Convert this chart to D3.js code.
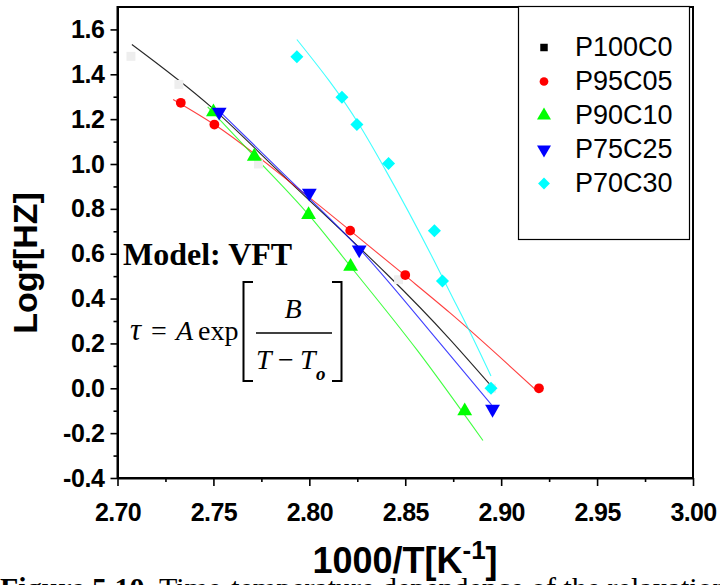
<!DOCTYPE html>
<html><head><meta charset="utf-8">
<script src="https://cdn.jsdelivr.net/npm/d3@7"></script>
<style>html,body{margin:0;padding:0;background:#fff;} svg{display:block;}</style>
</head><body>
<svg id="chart" width="720" height="585"></svg>
<script>
// Series identity
const seriesNames = ["P100C0", "P95C05", "P90C10", "P75C25", "P70C30"];
const seriesColors = ["#000000", "#ff0000", "#00ff00", "#0000ff", "#00ffff"];

// Measured points: 1000/T (K^-1) and log f (Hz)
const p100c0X = [2.707, 2.732, 2.7735, 2.8465, 2.895];
const p100c0Y = [1.48, 1.355, 1.00, 0.484, 0.0];
const p95c05X = [2.733, 2.7505, 2.8213, 2.850, 2.9197];
const p95c05Y = [1.273, 1.176, 0.703, 0.505, 0.0];
const p90c10X = [2.750, 2.7713, 2.7996, 2.8215, 2.881];
const p90c10Y = [1.232, 1.034, 0.774, 0.543, -0.101];
const p75c25X = [2.753, 2.800, 2.8260, 2.8955];
const p75c25Y = [1.232, 0.871, 0.618, -0.093];
const p70c30X = [2.7935, 2.817, 2.8248, 2.8413, 2.8652, 2.8694, 2.8947];
const p70c30Y = [1.478, 1.298, 1.176, 1.002, 0.702, 0.478, 0.0];

// VFT fit curves
const fit100X = [2.7075, 2.7483, 2.7831, 2.8735, 2.8943];
const fit100Y = [1.533, 1.258, 0.975, 0.216, 0.015];
const fit95X = [2.729, 2.7505, 2.797, 2.8213, 2.850, 2.8735, 2.9197];
const fit95Y = [1.288, 1.176, 0.871, 0.703, 0.502, 0.335, -0.02];
const fit90X = [2.747, 2.7713, 2.7996, 2.8215, 2.8561, 2.8905];
const fit90Y = [1.255, 1.034, 0.774, 0.543, 0.171, -0.233];
const fit75X = [2.752, 2.7847, 2.8265, 2.8682, 2.895];
const fit75Y = [1.245, 0.972, 0.618, 0.200, -0.074];
const fit70X = [2.7935, 2.8265, 2.8396, 2.8648, 2.8735, 2.8838, 2.8947];
const fit70Y = [1.555, 1.168, 0.975, 0.573, 0.425, 0.25, 0.055];

// Axis ticks
const xTicks = [2.70, 2.75, 2.80, 2.85, 2.90, 2.95, 3.00];
const xMinorTicks = [2.725, 2.775, 2.825, 2.875, 2.925, 2.975];
const yTicks = [-0.4, -0.2, 0.0, 0.2, 0.4, 0.6, 0.8, 1.0, 1.2, 1.4, 1.6];
const yMinorTicks = [-0.3, -0.1, 0.1, 0.3, 0.5, 0.7, 0.9, 1.1, 1.3, 1.5];

const svg = d3.select("#chart");
const L = 117.5, R = 693, T = 7, B = 478;
const x = d3.scaleLinear().domain([2.70, 3.00]).range([L, R]);
const y = d3.scaleLinear().domain([-0.4, 1.7]).range([B, T]);

const sansBold = "'Liberation Sans', Arial, sans-serif";
const serif = "'Liberation Serif', 'Times New Roman', serif";
const hyphenFormat = f => d => d3.format(f)(d).replace("\u2212", "-");

// Caption (partly below the page edge)
const cap = svg.append("text").attr("x", 0).attr("y", 598)
  .attr("font-family", serif).attr("font-size", 30).attr("fill", "#000");
cap.append("tspan").attr("font-weight", "bold").text("Figure 5.10.");
cap.append("tspan").text(" Time-temperature dependence of the relaxation");

// Frame
svg.append("rect").attr("x", L).attr("y", T).attr("width", R - L).attr("height", B - T)
  .attr("fill", "none").attr("stroke", "#000").attr("stroke-width", 2);

// Axes
const xAxis = d3.axisBottom(x).tickValues(xTicks).tickFormat(hyphenFormat(".2f"))
  .tickSize(8).tickSizeOuter(0);
const gx = svg.append("g").attr("transform", `translate(0,${B})`).call(xAxis);
gx.select(".domain").attr("stroke-width", 2);
gx.selectAll(".tick line").attr("stroke-width", 1.6);
gx.selectAll(".tick text").attr("font-family", sansBold).attr("font-weight", "bold")
  .attr("font-size", 25).attr("fill", "#000").attr("dy", "0").attr("y", 43)
  .attr("letter-spacing", -0.6);
svg.append("g").attr("transform", `translate(0,${B})`)
  .call(d3.axisBottom(x).tickValues(xMinorTicks).tickFormat("").tickSize(4).tickSizeOuter(0))
  .call(g => g.select(".domain").remove())
  .selectAll(".tick line").attr("stroke-width", 1.6);

const yAxis = d3.axisLeft(y).tickValues(yTicks).tickFormat(hyphenFormat(".1f"))
  .tickSize(7).tickSizeOuter(0);
const gy = svg.append("g").attr("transform", `translate(${L},0)`).call(yAxis);
gy.select(".domain").attr("stroke-width", 2);
gy.selectAll(".tick line").attr("stroke-width", 1.6);
gy.selectAll(".tick text").attr("font-family", sansBold).attr("font-weight", "bold")
  .attr("font-size", 25).attr("fill", "#000").attr("x", -13).attr("letter-spacing", -0.4);
svg.append("g").attr("transform", `translate(${L},0)`)
  .call(d3.axisLeft(y).tickValues(yMinorTicks).tickFormat("").tickSize(4).tickSizeOuter(0))
  .call(g => g.select(".domain").remove())
  .selectAll(".tick line").attr("stroke-width", 1.6);

// Axis titles
svg.append("text").attr("transform", "translate(37,263) rotate(-90)")
  .attr("text-anchor", "middle").attr("font-family", sansBold).attr("font-weight", "bold")
  .attr("font-size", 34).attr("fill", "#000").text("Logf[HZ]");
const xt = svg.append("text").attr("x", 405).attr("y", 573).attr("text-anchor", "middle")
  .attr("font-family", sansBold).attr("font-weight", "bold").attr("font-size", 36).attr("fill", "#000");
xt.append("tspan").text("1000/T[K");
xt.append("tspan").attr("font-size", 26).attr("dy", -14).text("-1");
xt.append("tspan").attr("dy", 14).text("]");

// Fit curves
const fits = [[fit100X, fit100Y], [fit95X, fit95Y], [fit90X, fit90Y], [fit75X, fit75Y], [fit70X, fit70Y]];
const line = d3.line().x(d => x(d[0])).y(d => y(d[1])).curve(d3.curveMonotoneX);
fits.forEach(([xs, ys], i) => {
  svg.append("path").datum(xs.map((v, k) => [v, ys[k]]))
    .attr("d", line).attr("fill", "none").attr("stroke", seriesColors[i])
    .attr("stroke-width", 1.1).attr("stroke-opacity", i === 0 ? 0.85 : 0.75);
});

// Marker shapes
const symbols = [d3.symbolSquare, d3.symbolCircle, d3.symbolTriangle, d3.symbolTriangle, d3.symbolSquare];
const sizes = [80, 75, 95, 95, 85];
const rotations = [0, 0, 0, 180, 45];
const markerFill = ["#eeeeee", "#ff0000", "#00ff00", "#0000ff", "#00ffff"];
const series = [[p100c0X, p100c0Y], [p95c05X, p95c05Y], [p90c10X, p90c10Y], [p75c25X, p75c25Y], [p70c30X, p70c30Y]];
series.forEach(([xs, ys], i) => {
  svg.append("g").selectAll("path").data(xs.map((v, k) => [v, ys[k]])).join("path")
    .attr("d", d3.symbol().type(symbols[i]).size(sizes[i]))
    .attr("transform", d => `translate(${x(d[0])},${y(d[1])}) rotate(${rotations[i]})`)
    .attr("fill", markerFill[i]);
});

// Legend
svg.append("rect").attr("x", 518.5).attr("y", 6.5).attr("width", 171).attr("height", 233)
  .attr("fill", "#fff").attr("stroke", "#000").attr("stroke-width", 1.2);
const legendSizes = [56, 60, 85, 85, 70];
seriesNames.forEach((name, i) => {
  const cy = 47.5 + i * 34;
  svg.append("path").attr("d", d3.symbol().type(symbols[i]).size(legendSizes[i]))
    .attr("transform", `translate(544,${cy}) rotate(${rotations[i]})`)
    .attr("fill", seriesColors[i]);
  svg.append("text").attr("x", 575).attr("y", cy + 8.5)
    .attr("font-family", "'Liberation Sans', Arial, sans-serif").attr("font-size", 27)
    .attr("fill", "#000").text(name);
});

// Model annotation
svg.append("text").attr("x", 123).attr("y", 265).attr("font-family", serif)
  .attr("font-weight", "bold").attr("font-size", 32).attr("fill", "#000").text("Model: VFT");
const eq = svg.append("g").attr("font-family", serif).attr("font-size", 28).attr("fill", "#000");
eq.append("text").attr("x", 130).attr("y", 340).attr("font-style", "italic").attr("font-size", 31).text("\u03c4");
eq.append("text").attr("x", 151).attr("y", 340).text("=");
eq.append("text").attr("x", 176).attr("y", 340).attr("font-style", "italic").text("A");
eq.append("text").attr("x", 198).attr("y", 340).text("exp");
eq.append("text").attr("x", 293).attr("y", 318).attr("text-anchor", "middle").attr("font-style", "italic").text("B");
eq.append("line").attr("x1", 256).attr("x2", 332).attr("y1", 333).attr("y2", 333)
  .attr("stroke", "#000").attr("stroke-width", 1.5);
eq.append("text").attr("x", 256).attr("y", 369).attr("font-style", "italic").text("T");
eq.append("text").attr("x", 278).attr("y", 369).text("\u2212");
eq.append("text").attr("x", 300).attr("y", 369).attr("font-style", "italic").text("T");
eq.append("text").attr("x", 316).attr("y", 380).attr("font-style", "italic").attr("font-weight", "bold")
  .attr("font-size", 19).text("o");
eq.append("path").attr("d", "M253,282 H243.5 V381 H253").attr("fill", "none")
  .attr("stroke", "#000").attr("stroke-width", 2);
eq.append("path").attr("d", "M332,282 H341.5 V381 H332").attr("fill", "none")
  .attr("stroke", "#000").attr("stroke-width", 2);
</script>
</body></html>
